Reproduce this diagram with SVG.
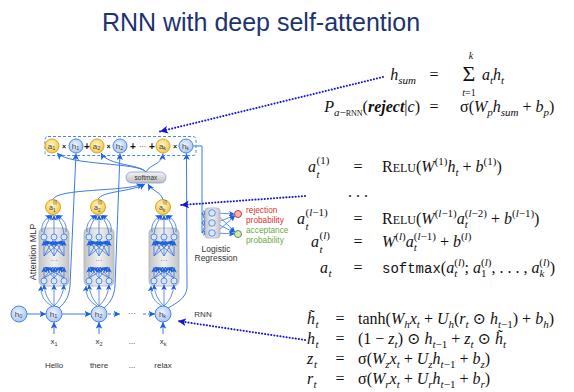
<svg xmlns="http://www.w3.org/2000/svg" xmlns:xlink="http://www.w3.org/1999/xlink" width="574" height="392" viewBox="0 0 574 392">
<defs>
<style>
.title{font-family:"Liberation Sans","DejaVu Sans",sans-serif;font-size:25px;fill:#1c3370}
.ln{fill:none;stroke:#3d7be0;stroke-width:1}
.lnf{fill:none;stroke:#2f6fdc;stroke-width:0.75}
.dot{fill:none;stroke:#1717d0;stroke-width:2;stroke-linecap:round;stroke-dasharray:0.1 3}
.dash{fill:none;stroke:#3d7be0;stroke-width:1;stroke-dasharray:3 2}
.hc{fill:url(#gBlue);stroke:#4a86e8;stroke-width:1}
.ac{fill:url(#gGold);stroke:#d9a521;stroke-width:1}
.sc3{fill:#d9e6fb;stroke:#3d7be0;stroke-width:0.8}
.ct{font-family:"Liberation Sans","DejaVu Sans",sans-serif;font-size:8px;fill:#444;text-anchor:middle}
.lab{font-family:"Liberation Sans","DejaVu Sans",sans-serif;font-size:8px;fill:#333;text-anchor:middle}
.eq{font-family:"Liberation Serif","DejaVu Serif",serif;font-size:16px;fill:#111}
.it{font-style:italic}
.sb{font-size:11px}
.sm{font-size:12px}
.tt{font-family:"Liberation Mono","DejaVu Sans Mono",monospace;font-size:14px}
</style>
<radialGradient id="gBlue" cx="0.45" cy="0.4" r="0.6"><stop offset="0" stop-color="#eef4fe"/><stop offset="1" stop-color="#a9c6f2"/></radialGradient>
<radialGradient id="gGold" cx="0.45" cy="0.4" r="0.6"><stop offset="0" stop-color="#fff6d0"/><stop offset="1" stop-color="#f3c94a"/></radialGradient>
<linearGradient id="gGray" x1="0" y1="0" x2="1" y2="0"><stop offset="0" stop-color="#c4c4c4"/><stop offset="0.5" stop-color="#f1f1f1"/><stop offset="1" stop-color="#c4c4c4"/></linearGradient>
<linearGradient id="gPill" x1="0" y1="0" x2="0" y2="1"><stop offset="0" stop-color="#f4f4f4"/><stop offset="1" stop-color="#bdbdbd"/></linearGradient>
<marker id="ah" viewBox="0 0 10 10" refX="10" refY="5" markerWidth="6.5" markerHeight="6.5" markerUnits="userSpaceOnUse" orient="auto"><path d="M0,0 L10,5 L0,10 L2.5,5 z" fill="#1a5fe0"/></marker>
<marker id="as" viewBox="0 0 10 10" refX="10" refY="5" markerWidth="5.5" markerHeight="5.5" markerUnits="userSpaceOnUse" orient="auto"><path d="M0,0 L10,5 L0,10 L2.5,5 z" fill="#1a5fe0"/></marker>
<marker id="ad" viewBox="0 0 10 10" refX="10" refY="5" markerWidth="8" markerHeight="8" markerUnits="userSpaceOnUse" orient="auto"><path d="M0,0 L10,5 L0,10 L2.5,5 z" fill="#1717d0"/></marker>
<g id="mlpT">
<rect x="-15" y="0" width="30" height="58" rx="5" fill="url(#gGray)" stroke="#a7b3c9" stroke-width="0.8"/>
<g class="lnf" marker-end="url(#as)">
<path d="M-10,28 L-10,12.5"/><path d="M0,28 L-9,12.5"/><path d="M10,28 L-8.5,12.5"/>
<path d="M-10,28 L-1,12.5"/><path d="M0,28 L0,12.5"/><path d="M10,28 L1,12.5"/>
<path d="M-10,28 L8.5,12.5"/><path d="M0,28 L9,12.5"/><path d="M10,28 L10,12.5"/>
<path d="M-10,50 L-10,39"/><path d="M0,50 L-9,39"/><path d="M10,50 L-8.5,39"/>
<path d="M-10,50 L-1,39"/><path d="M0,50 L0,39"/><path d="M10,50 L1,39"/>
<path d="M-10,50 L8.5,39"/><path d="M0,50 L9,39"/><path d="M10,50 L10,39"/>
</g>
<circle class="sc3" cx="-10" cy="9" r="3"/><circle class="sc3" cx="0" cy="9" r="3"/><circle class="sc3" cx="10" cy="9" r="3"/>
<circle class="sc3" cx="-10" cy="53" r="3"/><circle class="sc3" cx="0" cy="53" r="3"/><circle class="sc3" cx="10" cy="53" r="3"/>
<text x="0" y="35" font-family="Liberation Sans,sans-serif" font-size="7" fill="#555" text-anchor="middle">···</text>
<g class="lnf" marker-end="url(#as)">
<path d="M-10,6 Q-9,-4 -1.5,-13"/><path d="M0,6 L0,-13"/><path d="M10,6 Q9,-4 1.5,-13"/>
<path d="M-12,4 Q-14,-6 -3,-13"/><path d="M12,4 Q14,-6 3,-13"/>
<path d="M0,78 Q-9,70 -10,56.5"/><path d="M0,78 L0,56.5"/><path d="M0,78 Q9,70 10,56.5"/>
<path d="M-2,78 Q-14,72 -13,58"/>
</g>
</g>
</defs>
<rect width="574" height="392" fill="#ffffff"/>
<text class="title" x="261" y="31" text-anchor="middle">RNN with deep self-attention</text>

<g id="connectors">
<path class="ln" d="M27,314 L46,314" marker-end="url(#ah)"/>
<path class="ln" d="M62,314 L91,314" marker-end="url(#ah)"/>
<path class="dash" d="M108,314 L120,314" marker-end="url(#ah)"/>
<path class="dash" d="M143,314 L155,314" marker-end="url(#ah)"/>
<path class="ln" d="M54,334 L54,322" marker-end="url(#ah)"/>
<path class="ln" d="M99,334 L99,322" marker-end="url(#ah)"/>
<path class="ln" d="M163,334 L163,322" marker-end="url(#ah)"/>
<path class="ln" d="M59,308 C66,302 69,296 70,286 L76,153.5" marker-end="url(#ah)"/>
<path class="ln" d="M104,308 C111,302 114,296 115,286 L120,153.5" marker-end="url(#ah)"/>
<path class="ln" d="M168,308 C177,303 186,298 187,288 L186.5,153.5" marker-end="url(#ah)"/>
<path class="ln" d="M53,199.5 C57,188 124,192 143,184" marker-end="url(#ah)"/>
<path class="ln" d="M98,199.5 C101,191 131,192 145,184" marker-end="url(#ah)"/>
<path class="ln" d="M163,199.5 C161,192 152,191 148,184" marker-end="url(#ah)"/>
<path class="ln" d="M146,172 C138,162 70,166 57,153" marker-end="url(#ah)"/>
<path class="ln" d="M146,172 C140,164 108,166 101,153" marker-end="url(#ah)"/>
<path class="ln" d="M146,172 C150,164 162,165 163,153.5" marker-end="url(#ah)"/>
<path class="ln" d="M193,146 L202,146 L202,233"/>
<g class="lnf" marker-end="url(#as)">
<path d="M202,213 L208.5,213"/><path d="M202,223 L208.5,214.5"/><path d="M202,233 L209,215"/>
<path d="M202,213 L209,221.5"/><path d="M202,223 L208.5,223"/><path d="M202,233 L209,224.5"/>
<path d="M202,213 L209,231"/><path d="M202,223 L208.5,231.5"/><path d="M202,233 L208.5,233"/>
<path d="M215.5,213 L234.5,214"/><path d="M215.5,223 L234.5,215.5"/><path d="M215.5,233 L235,216"/>
<path d="M215.5,213 L235,232"/><path d="M215.5,223 L234.5,232.5"/><path d="M215.5,233 L234.5,234"/>
</g>
<path class="dot" d="M383,77 L160,131.5" marker-end="url(#ad)"/>
<path class="dot" d="M305,196 L181,205" marker-end="url(#ad)"/>
<path class="dot" d="M305,340 L178,321" marker-end="url(#ad)"/>
</g>

<g id="attention-sum">
<rect x="45" y="136.5" width="151" height="19" rx="3" fill="none" stroke="#4a86e8" stroke-width="1" stroke-dasharray="3 2"/>
<g font-family="Liberation Sans,sans-serif" font-weight="bold" fill="#111" text-anchor="middle">
<text x="64" y="148.5" font-size="7">×</text>
<text x="108.5" y="148.5" font-size="7">×</text>
<text x="175" y="148.5" font-size="7">×</text>
<text x="87" y="149.5" font-size="10">+</text>
<text x="133" y="149.5" font-size="10">+</text>
<text x="142.5" y="148.5" font-size="7" font-weight="normal">···</text>
<text x="152" y="149.5" font-size="10">+</text>
</g>
</g>
<g id="att-a1"><circle class="ac" cx="52" cy="146" r="7"/><text class="ct" x="51.5" y="148.5">a<tspan font-size="5.5" dy="1.5">1</tspan></text></g>
<g id="att-h1"><circle class="hc" cx="76" cy="146" r="7"/><text class="ct" x="75.5" y="148.5">h<tspan font-size="5.5" dy="1.5">1</tspan></text></g>
<g id="att-a2"><circle class="ac" cx="97" cy="146" r="7"/><text class="ct" x="96.5" y="148.5">a<tspan font-size="5.5" dy="1.5">2</tspan></text></g>
<g id="att-h2"><circle class="hc" cx="120" cy="146" r="7"/><text class="ct" x="119.5" y="148.5">h<tspan font-size="5.5" dy="1.5">2</tspan></text></g>
<g id="att-ak"><circle class="ac" cx="163" cy="146" r="7"/><text class="ct" x="162.5" y="148.5">a<tspan font-size="5.5" dy="1.5">k</tspan></text></g>
<g id="att-hk"><circle class="hc" cx="186" cy="146" r="7"/><text class="ct" x="185.5" y="148.5">h<tspan font-size="5.5" dy="1.5">k</tspan></text></g>

<g id="softmax">
<rect x="126" y="172" width="40" height="11" rx="5.5" fill="url(#gPill)" stroke="#7a9ad6" stroke-width="0.8"/>
<text x="146" y="180" font-family="Liberation Sans,sans-serif" font-size="6.5" fill="#333" text-anchor="middle">softmax</text>
</g>

<g id="al1"><circle class="ac" cx="53" cy="207" r="7.5"/><text font-family="Liberation Sans,sans-serif" fill="#444" font-size="7"><tspan x="49" y="209.5">a</tspan><tspan x="53" y="204" font-size="4.5">(l)</tspan><tspan x="53" y="211.5" font-size="4.5">1</tspan></text></g>
<g id="al2"><circle class="ac" cx="98" cy="207" r="7.5"/><text font-family="Liberation Sans,sans-serif" fill="#444" font-size="7"><tspan x="94" y="209.5">a</tspan><tspan x="98" y="204" font-size="4.5">(l)</tspan><tspan x="98" y="211.5" font-size="4.5">2</tspan></text></g>
<g id="alk"><circle class="ac" cx="163" cy="207" r="7.5"/><text font-family="Liberation Sans,sans-serif" fill="#444" font-size="7"><tspan x="159" y="209.5">a</tspan><tspan x="163" y="204" font-size="4.5">(l)</tspan><tspan x="163" y="211.5" font-size="4.5">k</tspan></text></g>

<g id="mlp1"><use xlink:href="#mlpT" transform="translate(54,228)"/></g>
<g id="mlp2"><use xlink:href="#mlpT" transform="translate(99,228)"/></g>
<g id="mlpk"><use xlink:href="#mlpT" transform="translate(164,228)"/></g>
<text x="33" y="252" font-family="Liberation Sans,sans-serif" font-size="9" fill="#333" text-anchor="middle" transform="rotate(-90 33 252)" dy="3">Attention MLP</text>

<g id="h0"><circle class="hc" cx="19" cy="314" r="8"/><text class="ct" x="18.5" y="316.5">h<tspan font-size="5.5" dy="1.5">0</tspan></text></g>
<g id="h1"><circle class="hc" cx="54" cy="314" r="8"/><text class="ct" x="53.5" y="316.5">h<tspan font-size="5.5" dy="1.5">1</tspan></text></g>
<g id="h2"><circle class="hc" cx="99" cy="314" r="8"/><text class="ct" x="98.5" y="316.5">h<tspan font-size="5.5" dy="1.5">2</tspan></text></g>
<g id="hk"><circle class="hc" cx="163" cy="314" r="8"/><text class="ct" x="162.5" y="316.5">h<tspan font-size="5.5" dy="1.5">k</tspan></text></g>
<text class="lab" x="132" y="316" fill="#555">···</text>
<text class="lab" x="203" y="317">RNN</text>

<g id="inputs">
<text class="lab" x="54" y="344">x<tspan font-size="5.5" dy="1.5">1</tspan></text>
<text class="lab" x="99" y="344">x<tspan font-size="5.5" dy="1.5">2</tspan></text>
<text class="lab" x="132" y="344">...</text>
<text class="lab" x="163" y="344">x<tspan font-size="5.5" dy="1.5">k</tspan></text>
<text class="lab" x="54" y="368">Hello</text>
<text class="lab" x="99" y="368">there</text>
<text class="lab" x="132" y="368">...</text>
<text class="lab" x="163" y="368">relax</text>
</g>

<g id="logreg">
<rect x="205" y="208" width="15" height="30" rx="3" fill="url(#gGray)" stroke="#a7b3c9" stroke-width="0.8"/>
<circle class="sc3" cx="212" cy="213" r="3.3"/><circle class="sc3" cx="212" cy="223" r="3.3"/><circle class="sc3" cx="212" cy="233" r="3.3"/>
<circle cx="238" cy="214" r="3.5" fill="#f5b5b5" stroke="#cc2222" stroke-width="0.9"/>
<circle cx="238" cy="234" r="3.5" fill="#cfe8c0" stroke="#4a8a2a" stroke-width="0.9"/>
<g font-family="Liberation Sans,sans-serif" font-size="8.3">
<text x="246" y="213" fill="#e0302a">rejection</text>
<text x="246" y="223" fill="#e0302a">probability</text>
<text x="246" y="233" fill="#6aaa4a">acceptance</text>
<text x="246" y="243" fill="#6aaa4a">probability</text>
</g>
<text class="lab" x="216" y="252" style="font-size:8.5px">Logistic</text>
<text class="lab" x="216" y="261" style="font-size:8.5px">Regression</text>
</g>

<g id="equations">
<text class="eq" x="416" y="80" text-anchor="end"><tspan class="it">h</tspan><tspan class="sb it" dy="4">sum</tspan></text>
<text class="eq" x="434" y="80" text-anchor="middle">=</text>
<text class="eq" x="469" y="81" style="font-size:22px" text-anchor="middle">Σ</text>
<text class="eq it" x="471" y="59" style="font-size:10px" text-anchor="middle">k</text>
<text class="eq" x="469" y="95.5" style="font-size:10px" text-anchor="middle"><tspan class="it">t</tspan>=1</text>
<text class="eq" x="482" y="80"><tspan class="it">a</tspan><tspan class="sb it" dy="4">t</tspan><tspan class="it" dy="-4">h</tspan><tspan class="sb it" dy="4">t</tspan></text>

<text class="eq" x="420" y="112" text-anchor="end"><tspan class="it">P</tspan><tspan class="sb" dy="4"><tspan class="it">a</tspan>−<tspan font-size="8">RNN</tspan></tspan><tspan dy="-4">(</tspan><tspan class="it" font-weight="bold">reject</tspan>|<tspan class="it">c</tspan>)</text>
<text class="eq" x="434" y="112" text-anchor="middle">=</text>
<text class="eq" x="460" y="112">σ(<tspan class="it">W</tspan><tspan class="sb it" dy="4">p</tspan><tspan class="it" dy="-4">h</tspan><tspan class="sb it" dy="4">sum</tspan><tspan dy="-4"> + </tspan><tspan class="it">b</tspan><tspan class="sb it" dy="4">p</tspan><tspan dy="-4">)</tspan></text>

<text class="eq it" x="308" y="172">a</text><text class="eq" x="316.5" y="164" style="font-size:11px">(1)</text><text class="eq it" x="316.5" y="178" style="font-size:11px">t</text>
<text class="eq" x="358" y="172" text-anchor="middle">=</text>
<text class="eq" x="382" y="172">R<tspan class="sm">ELU</tspan>(<tspan class="it">W</tspan><tspan class="sb" dy="-7">(1)</tspan><tspan class="it" dy="7">h</tspan><tspan class="sb it" dy="4">t</tspan><tspan dy="-4"> + </tspan><tspan class="it">b</tspan><tspan class="sb" dy="-7">(1)</tspan><tspan dy="7">)</tspan></text>

<text class="eq" x="358" y="197" text-anchor="middle">. . .</text>

<text class="eq it" x="297" y="224">a</text><text class="eq" x="305.5" y="216" style="font-size:11px">(<tspan class="it">l</tspan>−1)</text><text class="eq it" x="305.5" y="230" style="font-size:11px">t</text>
<text class="eq" x="358" y="224" text-anchor="middle">=</text>
<text class="eq" x="382" y="224">R<tspan class="sm">ELU</tspan>(<tspan class="it">W</tspan><tspan class="sb" dy="-7">(<tspan class="it">l</tspan>−1)</tspan><tspan class="it" dy="7">a</tspan><tspan class="sb it" dy="4">t</tspan><tspan class="sb" dy="-11" dx="-3">(<tspan class="it">l</tspan>−2)</tspan><tspan dy="7"> + </tspan><tspan class="it">b</tspan><tspan class="sb" dy="-7">(<tspan class="it">l</tspan>−1)</tspan><tspan dy="7">)</tspan></text>

<text class="eq it" x="311" y="247">a</text><text class="eq" x="319.5" y="239" style="font-size:11px">(<tspan class="it">l</tspan>)</text><text class="eq it" x="319.5" y="253" style="font-size:11px">t</text>
<text class="eq" x="358" y="247" text-anchor="middle">=</text>
<text class="eq" x="382" y="247"><tspan class="it">W</tspan><tspan class="sb" dy="-7">(<tspan class="it">l</tspan>)</tspan><tspan class="it" dy="7">a</tspan><tspan class="sb it" dy="4">t</tspan><tspan class="sb" dy="-11" dx="-3">(<tspan class="it">l</tspan>−1)</tspan><tspan dy="7"> + </tspan><tspan class="it">b</tspan><tspan class="sb" dy="-7">(<tspan class="it">l</tspan>)</tspan></text>

<text class="eq it" x="320" y="273">a</text><text class="eq it" x="328.5" y="277" style="font-size:11px">t</text>
<text class="eq" x="358" y="273" text-anchor="middle">=</text>
<text class="eq" x="382" y="273"><tspan class="tt">softmax</tspan>(<tspan class="it">a</tspan><tspan class="sb it" dy="4">t</tspan><tspan class="sb" dy="-11" dx="-3">(<tspan class="it">l</tspan>)</tspan><tspan dy="7">; </tspan><tspan class="it">a</tspan><tspan class="sb" dy="4">1</tspan><tspan class="sb" dy="-11" dx="-5.5">(<tspan class="it">l</tspan>)</tspan><tspan dy="7">, . . . , </tspan><tspan class="it">a</tspan><tspan class="sb it" dy="4">k</tspan><tspan class="sb" dy="-11" dx="-5">(<tspan class="it">l</tspan>)</tspan><tspan dy="7">)</tspan></text>

<text class="eq it" x="307" y="324">h̃</text><text class="eq it" x="315.5" y="328" style="font-size:11px">t</text>
<text class="eq" x="340" y="324" text-anchor="middle">=</text>
<text class="eq" x="358" y="324">tanh(<tspan class="it">W</tspan><tspan class="sb it" dy="4">h</tspan><tspan class="it" dy="-4">x</tspan><tspan class="sb it" dy="4">t</tspan><tspan dy="-4"> + </tspan><tspan class="it">U</tspan><tspan class="sb it" dy="4">h</tspan><tspan dy="-4">(</tspan><tspan class="it">r</tspan><tspan class="sb it" dy="4">t</tspan><tspan dy="-4"> ⊙ </tspan><tspan class="it">h</tspan><tspan class="sb" dy="4"><tspan class="it">t</tspan>−1</tspan><tspan dy="-4">) + </tspan><tspan class="it">b</tspan><tspan class="sb it" dy="4">h</tspan><tspan dy="-4">)</tspan></text>

<text class="eq it" x="307" y="344">h</text><text class="eq it" x="315.5" y="348" style="font-size:11px">t</text>
<text class="eq" x="340" y="344" text-anchor="middle">=</text>
<text class="eq" x="358" y="344">(1 − <tspan class="it">z</tspan><tspan class="sb it" dy="4">t</tspan><tspan dy="-4">) ⊙ </tspan><tspan class="it">h</tspan><tspan class="sb" dy="4"><tspan class="it">t</tspan>−1</tspan><tspan dy="-4"> + </tspan><tspan class="it">z</tspan><tspan class="sb it" dy="4">t</tspan><tspan dy="-4"> ⊙ </tspan><tspan class="it">h̃</tspan><tspan class="sb it" dy="4">t</tspan></text>

<text class="eq it" x="307" y="364">z</text><text class="eq it" x="314" y="368" style="font-size:11px">t</text>
<text class="eq" x="340" y="364" text-anchor="middle">=</text>
<text class="eq" x="358" y="364">σ(<tspan class="it">W</tspan><tspan class="sb it" dy="4">z</tspan><tspan class="it" dy="-4">x</tspan><tspan class="sb it" dy="4">t</tspan><tspan dy="-4"> + </tspan><tspan class="it">U</tspan><tspan class="sb it" dy="4">z</tspan><tspan class="it" dy="-4">h</tspan><tspan class="sb" dy="4"><tspan class="it">t</tspan>−1</tspan><tspan dy="-4"> + </tspan><tspan class="it">b</tspan><tspan class="sb it" dy="4">z</tspan><tspan dy="-4">)</tspan></text>

<text class="eq it" x="307" y="384">r</text><text class="eq it" x="313.5" y="388" style="font-size:11px">t</text>
<text class="eq" x="340" y="384" text-anchor="middle">=</text>
<text class="eq" x="358" y="384">σ(<tspan class="it">W</tspan><tspan class="sb it" dy="4">r</tspan><tspan class="it" dy="-4">x</tspan><tspan class="sb it" dy="4">t</tspan><tspan dy="-4"> + </tspan><tspan class="it">U</tspan><tspan class="sb it" dy="4">r</tspan><tspan class="it" dy="-4">h</tspan><tspan class="sb" dy="4"><tspan class="it">t</tspan>−1</tspan><tspan dy="-4"> + </tspan><tspan class="it">b</tspan><tspan class="sb it" dy="4">r</tspan><tspan dy="-4">)</tspan></text>
</g>
</svg>
